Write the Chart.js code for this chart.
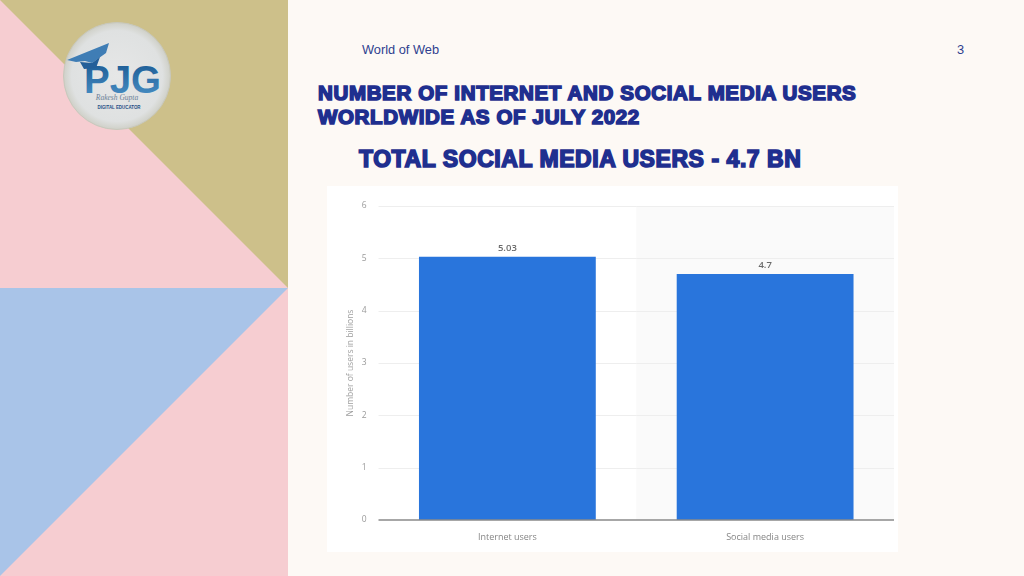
<!DOCTYPE html>
<html><head><meta charset="utf-8">
<style>
html,body{margin:0;padding:0;width:1024px;height:576px;overflow:hidden;background:#fdf9f5;font-family:"Liberation Sans",Arial,sans-serif}
#deco{position:absolute;left:0;top:0}
.t{position:absolute;white-space:nowrap;color:#1f2f8f;font-weight:bold}
.h{-webkit-text-stroke:1.6px #1f2f8f}
#card{position:absolute;left:327px;top:186px;width:571px;height:366px;background:#fff;filter:blur(0.35px)}
canvas{display:block}
</style></head><body>
<svg id="deco" width="288" height="576" viewBox="0 0 288 576">
<defs>
<radialGradient id="disc" cx="50%" cy="50%" r="50%">
<stop offset="0%" stop-color="#e6e7e7"/><stop offset="85%" stop-color="#dfe1e1"/><stop offset="100%" stop-color="#cfd0c8"/>
</radialGradient>
<linearGradient id="pjg" x1="0" y1="0" x2="0" y2="1">
<stop offset="0%" stop-color="#17558f"/><stop offset="100%" stop-color="#4d94c9"/>
</linearGradient>
</defs>
<rect width="288" height="576" fill="#f6cdd1"/>
<polygon points="0,0 288,0 288,288" fill="#cdc08a"/>
<polygon points="0,288 288,288 0,576" fill="#a9c4e8"/>
<circle cx="117" cy="76" r="53.5" fill="url(#disc)" stroke="#c8c8bc" stroke-width="1"/>
<text x="84" y="93" font-family="Liberation Sans" font-weight="bold" font-size="39" fill="url(#pjg)" textLength="77" lengthAdjust="spacingAndGlyphs">PJG</text>
<polygon points="67,60 109,43 106,53 92,63 85,61 76,62" fill="#3f7db5"/>
<polygon points="80,62 92,63 100,57 96,68 84,69" fill="#245f99"/>
<text x="117" y="100" text-anchor="middle" font-family="Liberation Serif" font-style="italic" font-size="7.5" fill="#6b7f97">Rakesh Gupta</text>
<text x="119" y="109" text-anchor="middle" font-family="Liberation Sans" font-weight="bold" font-size="5.5" fill="#1f4f86" textLength="43" lengthAdjust="spacingAndGlyphs">DIGITAL EDUCATOR</text>
</svg>
<div class="t" style="left:362px;top:42px;font-size:12.8px;font-weight:normal;color:#2f3f8f">World of Web</div>
<div class="t" style="left:957px;top:42px;font-size:12.8px;font-weight:normal;color:#2f3f8f">3</div>
<div class="t h" style="left:318px;top:81px;font-size:20.5px;line-height:23.5px;letter-spacing:.65px">NUMBER OF INTERNET AND SOCIAL MEDIA USERS<br>WORLDWIDE AS OF JULY 2022</div>
<div class="t h" style="left:359px;top:147px;font-size:23px;line-height:25px;letter-spacing:.55px">TOTAL SOCIAL MEDIA USERS - 4.7 BN</div>
<div id="card"><canvas id="c" width="571" height="366"></canvas></div>
<script src="https://cdn.jsdelivr.net/npm/chart.js@4/dist/chart.umd.min.js"></script>
<script>
const categories = ["Internet users", "Social media users"];
const userValues = [5.03, 4.7];
const valueLabels = ["5.03", "4.7"];
const axisTitle = "Number of users in billions";
const FONT = '"Open Sans"';

const bandPlugin = {
  id: 'band',
  beforeDatasetsDraw(ch) {
    const {ctx, chartArea: a, scales: {x}} = ch;
    const mid = (x.getPixelForValue(0) + x.getPixelForValue(1)) / 2;
    ctx.save();
    ctx.fillStyle = '#fafafa';
    ctx.fillRect(mid, a.top, a.right - mid, a.bottom - a.top);
    ctx.strokeStyle = '#eeeeee';
    ctx.lineWidth = 1;
    ch.scales.y.ticks.forEach(t => {
      if (t.value === 0) return;
      const p = Math.round(ch.scales.y.getPixelForValue(t.value)) + 0.5;
      ctx.beginPath(); ctx.moveTo(a.left, p); ctx.lineTo(a.right, p); ctx.stroke();
    });
    ctx.restore();
  },
  afterDatasetsDraw(ch) {
    const {ctx, chartArea: a, scales: {x, y}} = ch;
    ctx.save();
    ctx.strokeStyle = '#8a8a8a';
    ctx.lineWidth = 1.5;
    ctx.beginPath(); ctx.moveTo(a.left, y.getPixelForValue(0)); ctx.lineTo(a.right, y.getPixelForValue(0)); ctx.stroke();
    ctx.fillStyle = '#6a6a6a';
    ctx.font = '600 9.5px ' + FONT;
    ctx.textAlign = 'center';
    ctx.textBaseline = 'bottom';
    userValues.forEach((v, i) => ctx.fillText(valueLabels[i], x.getPixelForValue(i), y.getPixelForValue(v) - 4));
    ctx.restore();
  }
};

new Chart(document.getElementById('c'), {
  type: 'bar',
  data: { labels: categories, datasets: [{ data: userValues, backgroundColor: '#2975dc', barPercentage: 0.686, categoryPercentage: 1 }] },
  options: {
    responsive: false, animation: false,
    layout: { padding: { left: 0, right: 4, top: 20, bottom: 0 } },
    plugins: { legend: { display: false }, tooltip: { enabled: false } },
    scales: {
      x: {
        grid: { display: false }, border: { display: false },
        ticks: { color: '#858585', font: { family: FONT, size: 9 }, padding: 4, maxRotation: 0 },
        afterFit(s) { s.height = 32; }
      },
      y: {
        min: 0, max: 6,
        grid: { display: false }, border: { display: false },
        ticks: { stepSize: 1, color: '#9a9a9a', font: { family: FONT, size: 8.5 }, padding: 4 },
        title: { display: true, text: axisTitle, color: '#a0a0a0', font: { family: FONT, size: 8.5 }, padding: { top: 18, bottom: 0 } },
        afterFit(s) { s.width = 51.5; }
      }
    }
  },
  plugins: [bandPlugin]
});
</script>
</body></html>
